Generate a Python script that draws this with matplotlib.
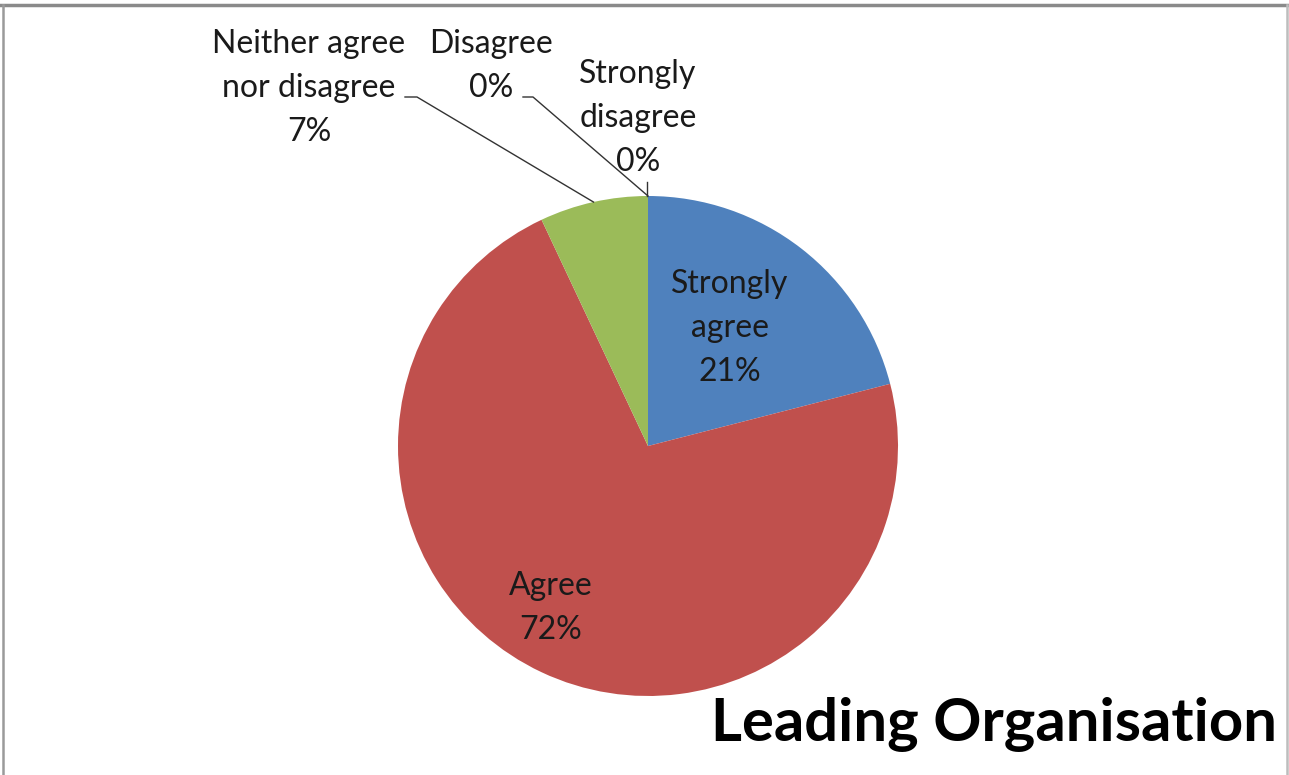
import numpy as np
import matplotlib
matplotlib.use("Agg")
import matplotlib.pyplot as plt
from matplotlib.lines import Line2D

categories = ["Strongly agree", "Agree", "Neither agree\nnor disagree", "Disagree", "Strongly\ndisagree"]
values = [21, 72, 7, 0, 0]
colors = ["#4F81BD", "#C0504D", "#9BBB59", "#8064A2", "#4BACC6"]
title = "Leading Organisation"

W, H = 1289, 775
plt.rcParams['font.family'] = ['Lato', 'DejaVu Sans']
fig = plt.figure(figsize=(W / 100, H / 100), dpi=100)
ax = fig.add_axes([0, 0, 1, 1])

cx, cy, R = 648, H - 446, 250
ax.pie(values, colors=colors, startangle=90, counterclock=False,
       center=(cx, cy), radius=R, frame=True,
       wedgeprops=dict(linewidth=0))
ax.set_xlim(0, W)
ax.set_ylim(0, H)
ax.set_aspect('equal')
ax.axis('off')

fs = 23
ls = 1.58
tc = '#1a1a1a'
# inside labels
ax.text(730, H - 328, f"Strongly\nagree\n{values[0]}%", ha='center', va='center',
        fontsize=fs, color=tc, linespacing=ls)
ax.text(551, H - 608, f"Agree\n{values[1]}%", ha='center', va='center',
        fontsize=fs, color=tc, linespacing=ls)

# outside labels
ax.text(309, H - 88, f"Neither agree\nnor disagree\n{values[2]}%", ha='center', va='center',
        fontsize=fs, color=tc, linespacing=ls)
ax.text(491, H - 66, f"Disagree\n{values[3]}%", ha='center', va='center',
        fontsize=fs, color=tc, linespacing=ls)
ax.text(638, H - 118, f"Strongly\ndisagree\n{values[4]}%", ha='center', va='center',
        fontsize=fs, color=tc, linespacing=ls)

total = sum(values)

def edge_point(idx):
    before = sum(values[:idx])
    frac = (before + values[idx] / 2) / total
    ang = np.deg2rad(90 - 360 * frac)
    return cx + R * np.cos(ang), cy + R * np.sin(ang)

lc = '#333333'
# leader lines
px, py = edge_point(2)
ax.plot([405, 417, px], [H - 97, H - 97, py], color=lc, lw=1)
px, py = edge_point(3)
ax.plot([523, 533, px], [H - 97, H - 97, py], color=lc, lw=1)
px, py = edge_point(4)
ax.plot([px - 1, px - 1], [H - 182, py], color=lc, lw=1)

ax.text(1277, H - 725, title, ha='right', va='center', fontsize=43,
        fontweight='bold', color='black')

# frame border
fig.add_artist(Line2D([0, 1], [1 - 5 / H, 1 - 5 / H], transform=fig.transFigure, color='#8a8a8a', lw=2.5))
fig.add_artist(Line2D([3 / W, 3 / W], [0, 1 - 5 / H], transform=fig.transFigure, color='#9a9a9a', lw=1.8))
fig.add_artist(Line2D([1 - 2 / W, 1 - 2 / W], [0, 1 - 5 / H], transform=fig.transFigure, color='#bdbdbd', lw=1.8))

fig.savefig("out.png", dpi=100, facecolor='white')
